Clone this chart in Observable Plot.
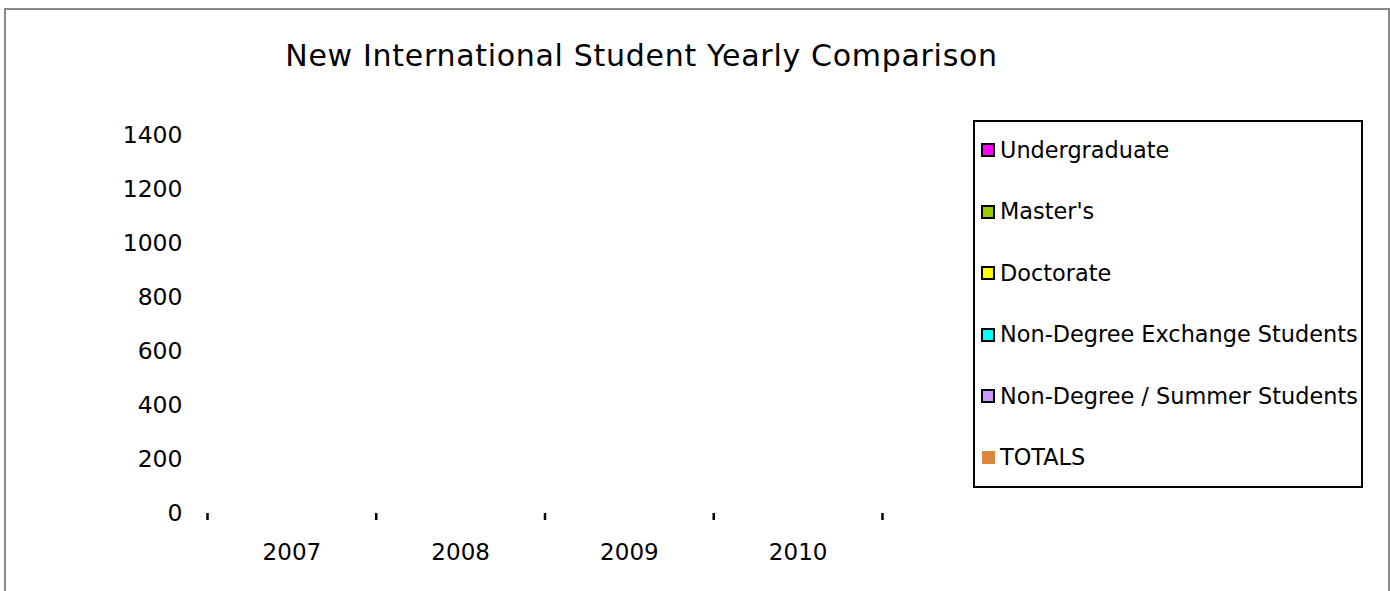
<!DOCTYPE html>
<html>
<head>
<meta charset="utf-8">
<script src="https://cdn.jsdelivr.net/npm/d3@7"></script>
<script src="https://cdn.jsdelivr.net/npm/@observablehq/plot@0.6"></script>
<style>
  html, body { margin: 0; padding: 0; background: #fff; }
  #wrap { position: relative; width: 1390px; height: 591px; overflow: hidden; font-family: "DejaVu Sans", Verdana, sans-serif; color: #000; }
  #frame { position: absolute; left: 4px; top: 8px; width: 1386px; height: 700px; box-sizing: border-box; border: 2px solid #8a8a8a; pointer-events: none; }
  #title { position: absolute; left: 0; top: 40.6px; width: 1283px; text-align: center; font-size: 30px; line-height: 30px; letter-spacing: 0.7px; white-space: nowrap; }
  #legend { position: absolute; left: 973px; top: 120px; width: 390px; height: 368px; box-sizing: border-box; border: 2px solid #000; background: #fff; }
  .item { position: absolute; left: 0; height: 0; }
  .sw { position: absolute; left: 6px; top: -7px; width: 10px; height: 10px; border: 2px solid #000; }
  .sw.nob { border: none; width: 13px; height: 13px; top: -6.5px; left: 7px; }
  .lab { position: absolute; left: 25px; top: -12.5px; font-size: 22.4px; line-height: 25px; white-space: nowrap; }
</style>
</head>
<body>
<div id="wrap">
  <div id="chart"></div>
  <div id="title"></div>
  <div id="legend"></div>
  <div id="frame"></div>
</div>
<script>
// ---- data (no bars are visible: every value reads as 0) ----
const chartTitle = "New International Student Yearly Comparison";
const years = [2007, 2008, 2009, 2010];
const seriesNames = ["Undergraduate", "Master's", "Doctorate", "Non-Degree Exchange Students", "Non-Degree / Summer Students", "TOTALS"];
const seriesColors = ["#ff00ff", "#99cc00", "#ffff00", "#00ffff", "#cc99ff", "#dd8640"];
const undergraduate = [0, 0, 0, 0];
const masters = [0, 0, 0, 0];
const doctorate = [0, 0, 0, 0];
const exchange = [0, 0, 0, 0];
const summer = [0, 0, 0, 0];
const totals = [0, 0, 0, 0];
const yTicks = [0, 200, 400, 600, 800, 1000, 1200, 1400];

const seriesValues = [undergraduate, masters, doctorate, exchange, summer, totals];
const data = [];
seriesNames.forEach((s, i) => {
  years.forEach((yr, j) => data.push({year: yr, series: s, idx: i, value: seriesValues[i][j]}));
});
const n = seriesNames.length;
const groupPad = 0.15;
const w = (1 - 2 * groupPad) / n;
const boundaries = years.map(y => y - 0.5).concat([years[years.length - 1] + 0.5]);

const chart = Plot.plot({
  width: 1390,
  height: 591,
  marginLeft: 207,
  marginRight: 508,
  marginTop: 135,
  marginBottom: 78,
  style: {background: "transparent", fontFamily: "DejaVu Sans", fontSize: "23px", color: "#000", overflow: "visible"},
  x: {type: "linear", domain: [boundaries[0], boundaries[boundaries.length - 1]], axis: null},
  y: {domain: [0, 1400], axis: null},
  color: {domain: seriesNames, range: seriesColors},
  marks: [
    Plot.rect(data, {
      x1: d => d.year - 0.5 + groupPad + d.idx * w,
      x2: d => d.year - 0.5 + groupPad + (d.idx + 1) * w,
      y1: 0,
      y2: "value",
      fill: "series"
    }),
    Plot.axisY({ticks: yTicks, tickSize: 0, tickPadding: 25, tickFormat: d3.format("d"), label: null, fontSize: 23.5}),
    Plot.axisX({ticks: boundaries, tickSize: 7, strokeWidth: 2.5, text: null, label: null}),
    Plot.axisX({ticks: years, tickSize: 0, tickPadding: 30, tickFormat: d3.format("d"), label: null, fontSize: 23})
  ]
});
document.getElementById("chart").appendChild(chart);

document.getElementById("title").textContent = chartTitle;

const legend = document.getElementById("legend");
seriesNames.forEach((s, i) => {
  const item = document.createElement("div");
  item.className = "item";
  item.style.top = (30 - 2 + i * 61.5) + "px";
  const sw = document.createElement("div");
  sw.className = "sw" + (s === "TOTALS" ? " nob" : "");
  sw.style.background = seriesColors[i];
  const lab = document.createElement("div");
  lab.className = "lab";
  lab.textContent = s;
  item.appendChild(sw);
  item.appendChild(lab);
  legend.appendChild(item);
});
</script>
</body>
</html>
